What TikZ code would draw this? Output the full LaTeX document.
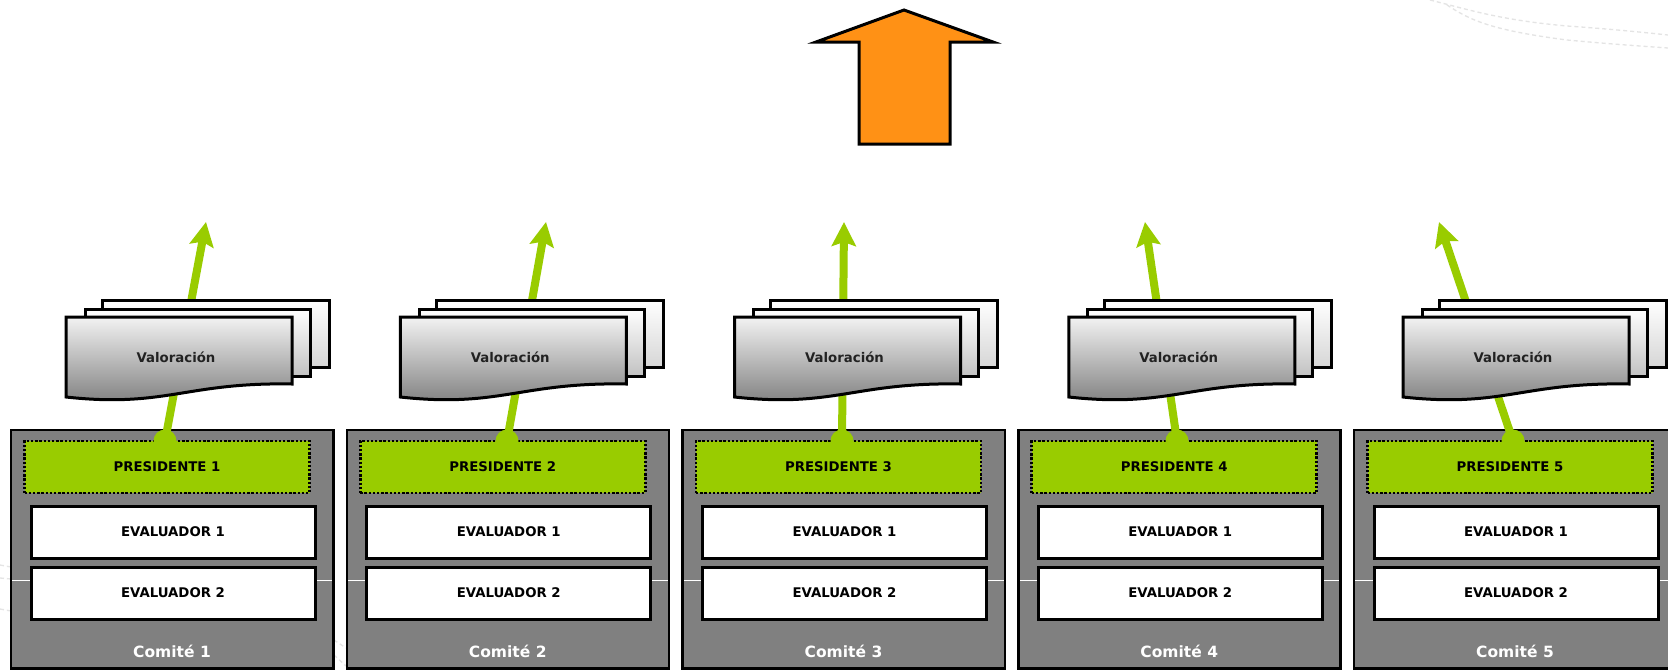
\documentclass[tikz,border=0pt]{standalone}
\usepackage{fontspec}
\setmainfont{DejaVu Sans}
\usetikzlibrary{arrows.meta}
\definecolor{grn}{RGB}{153,204,0}
\definecolor{org}{RGB}{255,145,21}
\definecolor{boxgray}{RGB}{128,128,128}
\definecolor{txtdark}{RGB}{34,34,34}
\definecolor{bgdashc}{RGB}{228,228,228}
\begin{document}
\begin{tikzpicture}[x=1pt,y=-1pt,
  combox/.style={fill=boxgray, minimum width=322pt, minimum height=238pt, inner sep=0pt, anchor=north west},
  comborder/.style={draw=black, line width=2.5pt},
  presbox/.style={fill=grn, draw=black, line width=2.6pt, dash pattern=on 2.4pt off 1.8pt, minimum width=285pt, minimum height=52pt, inner sep=0pt, font=\bfseries\fontsize{13.3}{15}\selectfont, text=black},
  evalbox/.style={fill=white, draw=black, line width=3pt, minimum width=284pt, minimum height=52pt, inner sep=0pt, font=\bfseries\fontsize{13.3}{15}\selectfont, text=black},
  comlabel/.style={text=white, font=\bfseries\fontsize{15.5}{17}\selectfont, inner sep=0pt},
  greendot/.style={circle, fill=grn, minimum size=23pt, inner sep=0pt},
  greenarrow/.style={draw=grn, line width=8pt, -{Stealth[length=24pt,width=24pt,inset=4pt]}},
  docline/.style={draw=black, line width=3pt, line join=miter},
  doctext/.style={text=txtdark, font=\bfseries\fontsize{13.3}{15}\selectfont, inner sep=0pt},
  bigarrow/.style={draw=black, line width=3pt, fill=org, line join=miter},
  bgdash/.style={draw=bgdashc, line width=1.3pt, dash pattern=on 4pt off 3pt}
]
\useasboundingbox (0,0) rectangle (1668,670);
\clip (0,0) rectangle (1668,670);
\fill[white] (0,0) rectangle (1668,670);

% faint background dashes
\draw[bgdash] (1430,0) .. controls (1470,10) and (1500,20) .. (1567,26) .. controls (1610,29) and (1640,32) .. (1668,35);
\draw[bgdash] (1447,5) .. controls (1470,20) and (1490,30) .. (1567,40) .. controls (1610,44) and (1640,46) .. (1668,48);
\draw[bgdash] (0,565) -- (11,567);
\draw[bgdash] (0,578) -- (11,579);
\draw[bgdash] (0,609) -- (11,611);
\draw[bgdash] (334,640) -- (346,648);
\draw[bgdash] (334,655) -- (346,666);

% committee boxes
\foreach \k in {1,...,5}{
  \pgfmathsetmacro{\cl}{11+335.75*(\k-1)}
  \node[combox] (c\k) at (\cl,430) {};
}
\draw[white, line width=1pt] (0,580) -- (1668,580);
\foreach \k in {1,...,5}{
  \pgfmathsetmacro{\cl}{11+335.75*(\k-1)}
  \draw[comborder] (c\k.north west) rectangle (c\k.south east);
  \node[presbox] (p\k) at (\cl+156,467) {PRESIDENTE \k};
  \node[evalbox] (ea\k) at (\cl+162,532) {EVALUADOR 1};
  \node[evalbox] (eb\k) at (\cl+162,593) {EVALUADOR 2};
  \node[comlabel] (l\k) at (\cl+161,651) {Comité \k};
}

% green arrows
\foreach \k/\b/\t in {1/165/206, 2/507/546, 3/842/844, 4/1177/1145, 5/1513/1439}{
  \node[greendot] (d\k) at (\b,441) {};
  \coordinate (t\k) at (\t,222);
  \draw[greenarrow] (d\k.center) -- (t\k);
}

% documents
\foreach \k in {1,...,5}{
  \pgfmathsetmacro{\L}{66+334.25*(\k-1)}
  \draw[docline, top color=white, bottom color=black!16] (\L+36,300) rectangle (\L+263,367);
  \draw[docline, top color=white, bottom color=black!24] (\L+19,309) rectangle (\L+244,376);
  \draw[docline, top color=black!5, bottom color=black!52] (\L,317) -- (\L+226,317) -- (\L+226,384)
     .. controls (\L+120,382) and (\L+100,408) .. (\L,397) -- cycle;
  \node[doctext] (v\k) at (\L+110,357) {Valoración};
}

% orange arrow
\draw[bigarrow] (904,10) -- (993,42) -- (950,42) -- (950,144) -- (859,144) -- (859,42) -- (816,42) -- cycle;
\end{tikzpicture}
\end{document}
